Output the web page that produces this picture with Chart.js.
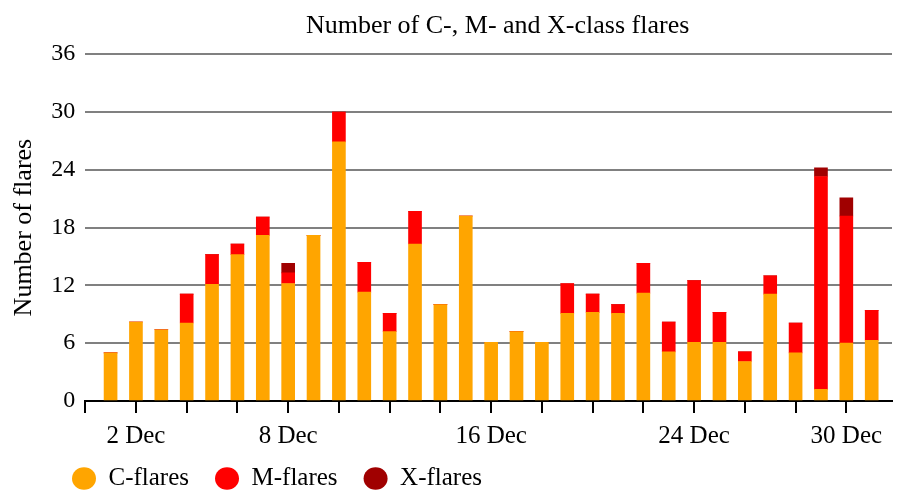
<!DOCTYPE html>
<html>
<head>
<meta charset="utf-8">
<script src="https://cdn.jsdelivr.net/npm/chart.js@4.4.0/dist/chart.umd.min.js"></script>
<style>
  html, body { margin: 0; padding: 0; background: #fff; }
  #wrap { width: 905px; height: 503px; }
</style>
</head>
<body>
<div id="wrap"><canvas id="flares"></canvas></div>
<script>
// day of December for each bar
const days = [1, 2, 3, 4, 5, 6, 7, 8, 9, 10, 11, 12, 13, 14, 15, 16,
              17, 18, 19, 20, 21, 22, 23, 24, 25, 26, 27, 28, 29, 30, 31];
const cFlares = [5, 8.2, 7.4, 8.1, 12.1, 15.2, 17.2, 12.2, 17.2, 26.9, 11.3, 7.2, 16.3, 10, 19.2, 6.1,
                 7.2, 6.1, 9.1, 9.2, 9.1, 11.2, 5.1, 6.1, 6.1, 4.1, 11.1, 5, 1.2, 6, 6.3];
const mFlares = [0, 0, 0, 3, 3.1, 1.1, 1.9, 1.1, 0, 3.1, 3.1, 1.9, 3.4, 0, 0, 0,
                 0, 0, 3.1, 1.9, 0.9, 3.1, 3.1, 6.4, 3.1, 1, 1.9, 3.1, 22.1, 13.2, 3.1];
const xFlares = [0, 0, 0, 0, 0, 0, 0, 1, 0, 0, 0, 0, 0, 0, 0, 0,
                 0, 0, 0, 0, 0, 0, 0, 0, 0, 0, 0, 0, 0.9, 1.9, 0];
const labelledDays = [2, 8, 16, 24, 30];
const yTicks = [0, 6, 12, 18, 24, 30, 36];

const serif = '"Liberation Serif", "DejaVu Serif", serif';

function points(values) {
    return days.map((d, i) => ({ x: d, y: values[i] }));
}

// nudge title and legend to where the original has them
const nudge = {
    id: 'nudge',
    afterLayout(chart) {
        const t = chart.titleBlock;
        if (t) { t.left += 9; t.right += 9; }
        const lg = chart.legend;
        if (lg) {
            lg.left += 42; lg.right += 42;
            lg.top -= 19;
        }
    }
};

const ctx = document.getElementById('flares').getContext('2d');
new Chart(ctx, {
    type: 'bar',
    data: {
        datasets: [
            { label: 'C-flares', data: points(cFlares), backgroundColor: '#ffa500', borderWidth: 0 },
            { label: 'M-flares', data: points(mFlares), backgroundColor: '#ff0000', borderWidth: 0 },
            { label: 'X-flares', data: points(xFlares), backgroundColor: '#a00000', borderWidth: 0 }
        ]
    },
    plugins: [nudge],
    options: {
        responsive: true,
        maintainAspectRatio: false,
        animation: false,
        events: [],
        barThickness: 13,
        layout: { padding: { left: 4, right: 13, top: 0, bottom: 0 } },
        plugins: {
            title: {
                display: true,
                fullSize: false,
                text: 'Number of C-, M- and X-class flares',
                color: '#000',
                font: { family: serif, size: 26, weight: 'normal' },
                padding: { top: 11, bottom: 12 }
            },
            legend: {
                position: 'bottom',
                align: 'start',
                maxHeight: 44,
                labels: {
                    color: '#000',
                    font: { family: serif, size: 25 },
                    usePointStyle: true,
                    pointStyle: 'circle',
                    pointStyleWidth: 24,
                    boxHeight: 16,
                    padding: 26
                }
            },
            tooltip: { enabled: false }
        },
        scales: {
            x: {
                type: 'linear',
                stacked: true,
                min: 0,
                max: 31.8,
                offset: false,
                grid: {
                    offset: false,
                    drawOnChartArea: false,
                    drawTicks: true,
                    tickLength: 12,
                    color: '#000',
                    lineWidth: 2
                },
                border: { display: true, color: '#000', width: 2 },
                ticks: {
                    stepSize: 2,
                    autoSkip: false,
                    includeBounds: false,
                    maxRotation: 0,
                    padding: 8,
                    color: '#000',
                    font: { family: serif, size: 25 },
                    callback: (v) => labelledDays.includes(v) ? v + ' Dec' : ''
                }
            },
            y: {
                stacked: true,
                min: yTicks[0],
                max: yTicks[yTicks.length - 1],
                afterBuildTicks: (axis) => { axis.ticks = yTicks.map(v => ({ value: v })); },
                grid: { drawTicks: false, color: '#808080', lineWidth: 2 },
                border: { display: false },
                ticks: {
                    padding: 10,
                    color: '#000',
                    font: { family: serif, size: 24 }
                },
                title: {
                    display: true,
                    text: 'Number of flares',
                    color: '#000',
                    font: { family: serif, size: 26 },
                    padding: { top: 5, bottom: 1 }
                }
            }
        }
    }
});
</script>
</body>
</html>
